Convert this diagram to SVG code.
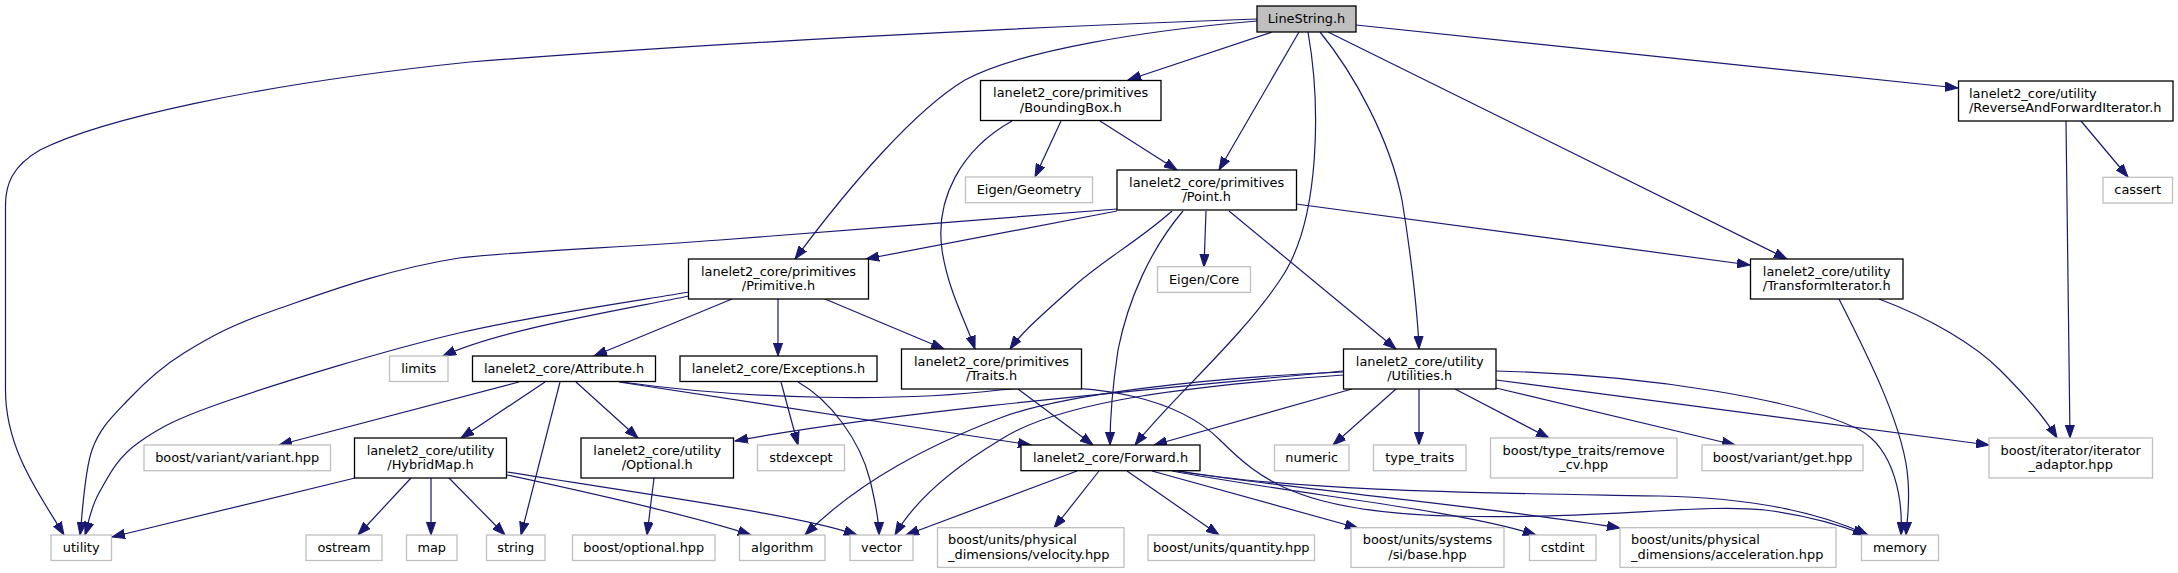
<svg xmlns="http://www.w3.org/2000/svg" width="2178" height="573" viewBox="0 0 2178 573">
<defs>
<style>
text{font-family:"DejaVu Sans","Liberation Sans",sans-serif;font-size:12.9px;fill:#000;text-anchor:middle}
text.l{text-anchor:start}
.n rect{fill:#fff;stroke:#000;stroke-width:1.3}
.x rect{fill:#fff;stroke:#bfbfbf;stroke-width:1.3}
.root rect{fill:#bfbfbf;stroke:#000;stroke-width:1.3}
#edges path{fill:none;stroke:#191970;stroke-width:1.2;marker-end:url(#a)}
</style>
<marker id="a" markerUnits="userSpaceOnUse" markerWidth="14" markerHeight="10" refX="13" refY="5" orient="auto">
<path d="M0,0.4 L13,5 L0,9.6 z" fill="#191970" stroke="#191970" stroke-width="1"/>
</marker>
</defs>
<rect width="2178" height="573" fill="#fff"/>
<g id="edges">
<path d="M1257,19 C1000,28 700,44 470,62 C250,85 100,120 40,150 C12,166 5.5,185 5.5,205 L5.5,390 C5.5,450 40,495 64,535"/>
<path d="M1257,21 C1150,30 1020,50 965,80 C915,110 850,185 795,259"/>
<path d="M1272,32 L1128,80"/>
<path d="M1299,32 L1219,170"/>
<path d="M1308,32 C1320,100 1322,220 1280,280 C1240,340 1170,400 1135,445"/>
<path d="M1320,32 C1355,75 1390,140 1402,200 C1412,260 1418,320 1419,349"/>
<path d="M1328,32 L1787,259"/>
<path d="M1356,25 L1958,88"/>
<path d="M1061,121 L1035,177"/>
<path d="M1100,121 L1177,170"/>
<path d="M1012,121 C960,150 935,200 942,250 C948,290 965,320 975,349"/>
<path d="M1117,209 C1051,214 829.7,231.8 720,240 C610.3,248.2 533.2,250 459,258 C384.8,269.7 320.8,294.2 275,310 C229.2,325.8 208.5,338 184,353 C159.5,368 143.3,383.8 128,400 C112.7,416.2 100,427.5 92,450 C84,472.5 82,520.8 80,535"/>
<path d="M1117,211 L866,259"/>
<path d="M1172,211 C1140,240 1100,262 1072,288 C1045,312 1022,332 1010,349"/>
<path d="M1183,211 C1150,250 1128,300 1118,350 C1112,390 1110,420 1110,445"/>
<path d="M1206,211 L1204,267"/>
<path d="M1229,211 L1396,349"/>
<path d="M1296,204 L1750,265"/>
<path d="M689,292 C650.7,298.8 535.5,315 459,333 C382.5,351 283.5,381.7 230,400 C176.5,418.3 159.8,427.5 138,443 C116.2,458.5 107.8,477.7 99,493 C90.2,508.3 87.3,528 85,535"/>
<path d="M689,296 C610,312 500,330 443,356"/>
<path d="M732,299 L594,356"/>
<path d="M778,299 L778,356"/>
<path d="M825,299 L944,349"/>
<path d="M519,382 L279,445"/>
<path d="M545,382 L461,438"/>
<path d="M560,382 L521,535"/>
<path d="M576,382 L638,438"/>
<path d="M619,382 L1031,445"/>
<path d="M622,382 C750,400 900,402 1000,390 C1100,380 1180,400 1220,440 C1260,480 1300,512 1450,516 C1600,520 1700,503 1765,510 C1805,515 1840,525 1866,535"/>
<path d="M1077,471 L906,535"/>
<path d="M1099,471 L1054,528"/>
<path d="M1127,471 L1219,535"/>
<path d="M1152,471 L1358,528"/>
<path d="M1172,471 C1300,495 1460,510 1536,535"/>
<path d="M1176,471 C1300,490 1500,508 1620,528"/>
<path d="M1180,471 C1300,492 1500,493 1660,496 C1760,498 1825,515 1868,535"/>
<path d="M781,382 L798,445"/>
<path d="M798,382 C830,400 860,440 870,480 C876,505 879,520 879,535"/>
<path d="M1018,389 L1093,445"/>
<path d="M355,478 L112,537"/>
<path d="M411,478 L358,535"/>
<path d="M431,478 L431,535"/>
<path d="M449,478 L505,535"/>
<path d="M507,475 C600,495 700,518 751,535"/>
<path d="M507,472 C650,495 800,515 857,535"/>
<path d="M654,478 L647,535"/>
<path d="M1343,371 C1200,385 900,410 735,441"/>
<path d="M1343,372 C1200,378 1060,395 1000,418 C930,445 860,480 805,535"/>
<path d="M1343,375 C1200,385 1060,400 1000,440 C950,470 915,500 895,535"/>
<path d="M1352,389 L1154,445"/>
<path d="M1396,389 L1333,445"/>
<path d="M1419,389 L1419,445"/>
<path d="M1455,389 L1549,438"/>
<path d="M1496,388 L1735,445"/>
<path d="M1496,380 L1989,445"/>
<path d="M1496,371 C1650,375 1800,400 1860,430 C1895,450 1903,500 1901,535"/>
<path d="M1839,299 C1870,360 1905,430 1908,480 C1910,505 1907,520 1906,535"/>
<path d="M1879,299 C1930,318 1975,345 2000,370 C2025,395 2045,418 2057,438"/>
<path d="M2081,121 L2128,177"/>
<path d="M2066,121 L2070,438"/>
</g>
<g id="n_linestring" class="root"><rect x="1257" y="6" width="99" height="26"/><text x="1306.5" y="22.5">LineString.h</text></g>
<g id="n_boundingbox" class="n"><rect x="980.5" y="80.5" width="180.5" height="40"/><text x="1070.7" y="97">lanelet2_core/primitives</text><text x="1070.7" y="111.5">/BoundingBox.h</text></g>
<g id="n_eigen_geometry" class="x"><rect x="965.5" y="177" width="127" height="25.7"/><text x="1029" y="194">Eigen/Geometry</text></g>
<g id="n_point" class="n"><rect x="1117" y="170" width="179.5" height="40"/><text x="1206.7" y="186.5">lanelet2_core/primitives</text><text x="1206.7" y="201">/Point.h</text></g>
<g id="n_primitive" class="n"><rect x="688.5" y="259" width="180" height="40"/><text x="778.5" y="275.5">lanelet2_core/primitives</text><text x="778.5" y="290">/Primitive.h</text></g>
<g id="n_eigen_core" class="x"><rect x="1157.5" y="266.7" width="93" height="25.7"/><text x="1204" y="283.7">Eigen/Core</text></g>
<g id="n_reverse" class="n"><rect x="1958.5" y="81" width="214.5" height="40"/><text class="l" x="1969" y="97.5">lanelet2_core/utility</text><text class="l" x="1969" y="112">/ReverseAndForwardIterator.h</text></g>
<g id="n_cassert" class="x"><rect x="2103" y="177.3" width="69.5" height="25.7"/><text x="2137.7" y="194.3">cassert</text></g>
<g id="n_transform" class="n"><rect x="1750.5" y="259" width="152.5" height="40"/><text x="1826.7" y="275.5">lanelet2_core/utility</text><text x="1826.7" y="290">/TransformIterator.h</text></g>
<g id="n_limits" class="x"><rect x="389.5" y="356" width="58.5" height="25.5"/><text x="418.7" y="373">limits</text></g>
<g id="n_attribute" class="n"><rect x="472.5" y="356" width="183" height="25.5"/><text x="564" y="373">lanelet2_core/Attribute.h</text></g>
<g id="n_exceptions" class="n"><rect x="680" y="356" width="197" height="25.5"/><text x="778.5" y="373">lanelet2_core/Exceptions.h</text></g>
<g id="n_traits" class="n"><rect x="901.5" y="349" width="180" height="40"/><text x="991.5" y="365.5">lanelet2_core/primitives</text><text x="991.5" y="380">/Traits.h</text></g>
<g id="n_utilities" class="n"><rect x="1343.5" y="349" width="152.5" height="40"/><text x="1419.7" y="365.5">lanelet2_core/utility</text><text x="1419.7" y="380">/Utilities.h</text></g>
<g id="n_variant" class="x"><rect x="144" y="445" width="186.5" height="25.7"/><text x="237.2" y="462">boost/variant/variant.hpp</text></g>
<g id="n_hybridmap" class="n"><rect x="354.5" y="438" width="152" height="40"/><text x="430.5" y="454.5">lanelet2_core/utility</text><text x="430.5" y="469">/HybridMap.h</text></g>
<g id="n_optional" class="n"><rect x="581" y="438" width="152.5" height="40"/><text x="657.2" y="454.5">lanelet2_core/utility</text><text x="657.2" y="469">/Optional.h</text></g>
<g id="n_stdexcept" class="x"><rect x="757.5" y="445" width="87" height="25.7"/><text x="801" y="462">stdexcept</text></g>
<g id="n_forward" class="n"><rect x="1021" y="445" width="179" height="25.7"/><text x="1110.5" y="462">lanelet2_core/Forward.h</text></g>
<g id="n_numeric" class="x"><rect x="1274.5" y="445" width="74.5" height="25.7"/><text x="1311.7" y="462">numeric</text></g>
<g id="n_type_traits" class="x"><rect x="1373.5" y="445" width="92.5" height="25.7"/><text x="1419.7" y="462">type_traits</text></g>
<g id="n_remove_cv" class="x"><rect x="1490.5" y="438" width="186.5" height="40"/><text x="1583.7" y="454.5">boost/type_traits/remove</text><text x="1583.7" y="469">_cv.hpp</text></g>
<g id="n_get" class="x"><rect x="1702" y="445" width="161" height="25.7"/><text x="1782.5" y="462">boost/variant/get.hpp</text></g>
<g id="n_iterator_adaptor" class="x"><rect x="1989" y="438" width="163.5" height="40"/><text x="2070.7" y="454.5">boost/iterator/iterator</text><text x="2070.7" y="469">_adaptor.hpp</text></g>
<g id="n_utility" class="x"><rect x="51" y="535" width="60.5" height="25.5"/><text x="81.2" y="552">utility</text></g>
<g id="n_ostream" class="x"><rect x="306" y="535" width="76" height="25.5"/><text x="344" y="552">ostream</text></g>
<g id="n_map" class="x"><rect x="406.5" y="535" width="50.5" height="25.5"/><text x="431.7" y="552">map</text></g>
<g id="n_string" class="x"><rect x="486.5" y="535" width="58.5" height="25.5"/><text x="515.7" y="552">string</text></g>
<g id="n_optional_hpp" class="x"><rect x="572.5" y="535" width="142.5" height="25.5"/><text x="643.7" y="552">boost/optional.hpp</text></g>
<g id="n_algorithm" class="x"><rect x="739.5" y="535" width="85.5" height="25.5"/><text x="782.2" y="552">algorithm</text></g>
<g id="n_vector" class="x"><rect x="850" y="535" width="63" height="25.5"/><text x="881.5" y="552">vector</text></g>
<g id="n_velocity" class="x"><rect x="937.5" y="527.7" width="186.5" height="39.7"/><text class="l" x="948" y="544">boost/units/physical</text><text class="l" x="948" y="558.5">_dimensions/velocity.hpp</text></g>
<g id="n_quantity" class="x"><rect x="1148" y="535" width="166.5" height="25.5"/><text x="1231.2" y="552">boost/units/quantity.hpp</text></g>
<g id="n_systems" class="x"><rect x="1351" y="527.7" width="153" height="39.7"/><text x="1427.5" y="544">boost/units/systems</text><text x="1427.5" y="558.5">/si/base.hpp</text></g>
<g id="n_cstdint" class="x"><rect x="1529.5" y="535" width="66.5" height="25.5"/><text x="1562.7" y="552">cstdint</text></g>
<g id="n_acceleration" class="x"><rect x="1620" y="527.7" width="216" height="39.7"/><text class="l" x="1631" y="544">boost/units/physical</text><text class="l" x="1631" y="558.5">_dimensions/acceleration.hpp</text></g>
<g id="n_memory" class="x"><rect x="1861.5" y="535" width="77" height="25.5"/><text x="1900" y="552">memory</text></g>
</svg>
